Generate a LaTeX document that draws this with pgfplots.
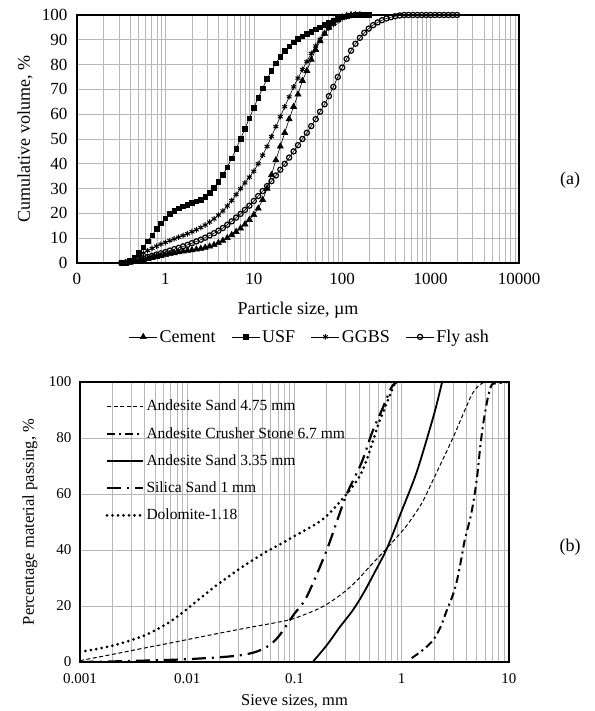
\documentclass[border=0pt]{standalone}
\usepackage{fontspec}
\setmainfont{Liberation Serif}
\usepackage{pgfplots}
\usepackage{pgfplotstable}
\pgfplotsset{compat=1.18}

\pgfplotstableread{
x cem usf ggbs fly
0.316 nan 0 nan 0
0.355 0 0 0 0.2
0.398 0.2 0.8 0.8 0.5
0.447 0.5 2.2 1.8 0.9
0.501 0.9 4 3 1.4
0.562 1.3 6.4 4 1.9
0.631 1.7 8.8 5 2.4
0.708 2.1 11.2 5.9 2.9
0.794 2.5 13.8 6.8 3.4
0.891 2.9 16 7.6 3.9
1.000 3.3 18 8.3 4.4
1.122 3.7 19.8 9 5
1.259 4.0 21 9.7 5.6
1.413 4.4 22 10.4 6.1
1.585 4.7 22.8 11.1 6.7
1.778 5.0 23.5 11.8 7.3
1.995 5.2 24.2 12.6 8.0
2.239 5.5 24.8 13.4 8.7
2.512 5.8 25.6 14.3 9.4
2.818 6.2 26.8 15.3 10.2
3.162 6.7 28.3 16.5 11.1
3.548 7.3 30.3 17.8 12
3.981 8.1 32.8 19.3 13
4.467 9.0 35.5 21 14.1
5.012 10.1 38.6 23 15.4
5.623 11.3 42.2 25.2 16.8
6.310 12.6 46 27.6 18.3
7.079 14 50 30 19.8
7.943 15.6 54.2 32.3 21.4
8.913 17.4 58.4 34.6 23.1
10.00 19.4 62.6 37 25
11.22 22 66.6 40 27
12.59 25.5 70.5 43.5 29
14.13 30 74.2 47 31
15.85 35.5 77.6 51 33
17.78 41.5 80.6 55 35.3
19.95 47 83.2 59 37.6
22.39 52.5 85.5 63 40
25.12 58 87.4 67 42.5
28.18 63 89 71 45
31.62 68 90.3 74.5 47.5
35.48 73.5 91.4 78 50
39.81 77.5 92.4 81.2 52.5
44.67 82 93.3 84.5 55.2
50.12 86 94.2 87.5 58
56.23 89.5 95.1 90.2 61
63.10 92.5 96 92.6 64
70.79 95 96.9 94.6 67.3
79.43 96.8 97.7 96.2 71
89.13 98.2 98.4 97.6 75
100.0 99.1 99 98.6 78.8
112.2 99.7 99.5 99.3 82.3
125.9 100 99.8 99.8 85.6
141.3 100 100 100 88.4
158.5 100 100 100 90.8
177.8 nan 100 100 92.8
199.5 nan 100 nan 94.5
223.9 nan nan nan 95.9
251.2 nan nan nan 97
281.8 nan nan nan 97.9
316.2 nan nan nan 98.6
354.8 nan nan nan 99.1
398.1 nan nan nan 99.5
446.7 nan nan nan 99.8
501.2 nan nan nan 100
562.3 nan nan nan 100
631.0 nan nan nan 100
707.9 nan nan nan 100
794.3 nan nan nan 100
891.3 nan nan nan 100
1000 nan nan nan 100
1122 nan nan nan 100
1259 nan nan nan 100
1413 nan nan nan 100
1585 nan nan nan 100
1778 nan nan nan 100
1995 nan nan nan 100
}\psd

\begin{document}
\begin{tikzpicture}
\useasboundingbox (0,0) rectangle (594pt,711pt);
% ---------------- (a) ----------------
\begin{axis}[
  at={(77pt,448pt)}, anchor=south west,
  width=442pt, height=248pt, scale only axis,
  xmode=log, xmin=0.1, xmax=10000, ymin=0, ymax=100,
  xtick={0.1,1,10,100,1000,10000}, xticklabels={0,1,10,100,1000,10000},
  ytick={0,10,...,100},
  xmajorgrids=true, xminorgrids=true, ymajorgrids=true,
  major grid style={black!28, line width=0.6pt},
  minor grid style={black!28, line width=0.6pt},
  axis line style={line width=1.4pt},
  tick style={draw=none},
  ticklabel style={font=\fontsize{17}{20}\selectfont},
  xticklabel style={yshift=-7pt},
  yticklabel style={xshift=-6pt},
  /pgf/number format/assume math mode=true,
  xlabel={Particle size, µm}, ylabel={Cumulative volume, \%},
  label style={font=\fontsize{18}{21}\selectfont},
  xlabel style={at={(axis description cs:0.5,-0.19)}, anchor=center},
  ylabel style={at={(axis description cs:-0.1176,0.5)}, anchor=center},
  legend columns=4,
  legend style={at={(axis description cs:0.527,-0.298)}, anchor=center, draw=none,
    font=\fontsize{18}{21}\selectfont,
    /tikz/every even column/.append style={column sep=14pt}},
  legend image code/.code={\draw[mark repeat=2,mark phase=2] plot coordinates {(0pt,0pt) (14pt,0pt) (28pt,0pt)};},
]
\addplot[black, line width=0.6pt, mark=triangle*, mark size=3.5pt] table[x=x,y=cem]{\psd};
\addlegendentry{Cement}
\addplot[black, line width=0.6pt, mark=square*, mark size=2.3pt] table[x=x,y=usf]{\psd};
\addlegendentry{USF}
\addplot[black, line width=0.6pt, mark=asterisk, mark size=2.8pt, mark options={line width=1pt}] table[x=x,y=ggbs]{\psd};
\addlegendentry{GGBS}
\addplot[black, line width=0.6pt, mark=o, mark size=2.6pt, mark options={fill=white, line width=1.2pt}] table[x=x,y=fly]{\psd};
\addlegendentry{Fly ash}
\end{axis}
\node[font=\fontsize{18}{21}\selectfont] at (570pt,531pt) {(a)};
% ---------------- (b) ----------------
\begin{axis}[
  at={(80pt,49pt)}, anchor=south west,
  width=429pt, height=280pt, scale only axis,
  xmode=log, xmin=0.001, xmax=10, ymin=0, ymax=100,
  xtick={0.001,0.01,0.1,1,10}, xticklabels={0.001,0.01,0.1,1,10},
  ytick={0,20,...,100},
  xmajorgrids=true, xminorgrids=true, ymajorgrids=true,
  major grid style={black!28, line width=0.6pt},
  minor grid style={black!28, line width=0.6pt},
  axis line style={line width=1.4pt},
  tick style={draw=none},
  ticklabel style={font=\fontsize{15}{18}\selectfont},
  xticklabel style={yshift=-8pt},
  yticklabel style={xshift=-5pt},
  /pgf/number format/assume math mode=true,
  xlabel={Sieve sizes, mm}, ylabel={Percentage material passing, \%},
  label style={font=\fontsize{16.5}{19}\selectfont},
  xlabel style={at={(axis description cs:0.5,-0.14)}, anchor=center},
  ylabel style={at={(axis description cs:-0.1166,0.5)}, anchor=center},
  legend cell align=left,
  legend style={at={(axis description cs:0.052,0.95)}, anchor=north west, draw=none, fill=none,
    font=\fontsize{15.5}{18}\selectfont, row sep=11pt},
  legend image code/.code={\draw (0pt,0pt) -- (36pt,0pt);},
]
\addplot[black, line width=1pt, dash pattern=on 4pt off 2.5pt, smooth] coordinates {
(0.001,0.5) (0.002,2.7) (0.004,5) (0.007,6.8) (0.01,8) (0.02,10.3) (0.04,12.5) (0.07,14.2) (0.1,15.6) (0.18,19.6) (0.28,24.5) (0.38,29) (0.5,34) (0.73,40.7) (1.1,48.5) (1.5,56) (1.7,60) (2.26,70) (3,80) (3.5,86) (4.04,91.5) (4.5,95.5) (5,98) (5.6,99.5) (6.2,100) (10,100)};
\addlegendentry{Andesite Sand 4.75 mm}
\addplot[black, line width=2pt, dash pattern=on 8pt off 4pt on 2pt off 4pt, smooth] coordinates {
(1.24,1.4) (1.6,4.5) (1.97,7.9) (2.3,12.5) (2.64,18.6) (3.0,24) (3.27,29) (3.6,37) (3.87,43.6) (4.45,53) (5.0,65) (5.4,77) (5.8,86) (6.4,95) (6.9,99) (7.5,99.5) (10,100)};
\addlegendentry{Andesite Crusher Stone 6.7 mm}
\addplot[black, line width=1.8pt, smooth] coordinates {
(0.148,0) (0.2,6) (0.265,12.5) (0.35,18.5) (0.44,24.6) (0.55,31.5) (0.73,40.7) (1.0,54) (1.37,67.5) (1.82,83) (2.1,91.5) (2.38,100)};
\addlegendentry{Andesite Sand 3.35 mm}
\addplot[black, line width=2.2pt, dash pattern=on 14pt off 6pt on 2pt off 6pt, smooth] coordinates {
(0.001,0) (0.002,0.2) (0.005,0.6) (0.01,1) (0.02,1.7) (0.03,2.3) (0.04,3.2) (0.05,4.5) (0.06,6.3) (0.07,8.8) (0.08,11.8) (0.09,14.8) (0.1,17.3) (0.13,23.3) (0.2,40) (0.3,59) (0.42,71) (0.53,82) (0.67,91) (0.8,98) (0.9,100)};
\addlegendentry{Silica Sand 1 mm}
\addplot[black, line width=3pt, line cap=round, dash pattern=on 0pt off 5.5pt, smooth] coordinates {
(0.001,3.6) (0.002,5.8) (0.004,9.5) (0.007,14.5) (0.01,19) (0.0175,26.5) (0.03,33) (0.05,38.5) (0.073,42) (0.1,45) (0.184,51) (0.3,59.6) (0.4,66) (0.47,72) (0.55,80) (0.62,86) (0.7,91) (0.78,95.5) (0.85,99) (0.9,100)};
\addlegendentry{Dolomite-1.18}
\end{axis}
\node[font=\fontsize{18}{21}\selectfont] at (570pt,164pt) {(b)};
\end{tikzpicture}
\end{document}
